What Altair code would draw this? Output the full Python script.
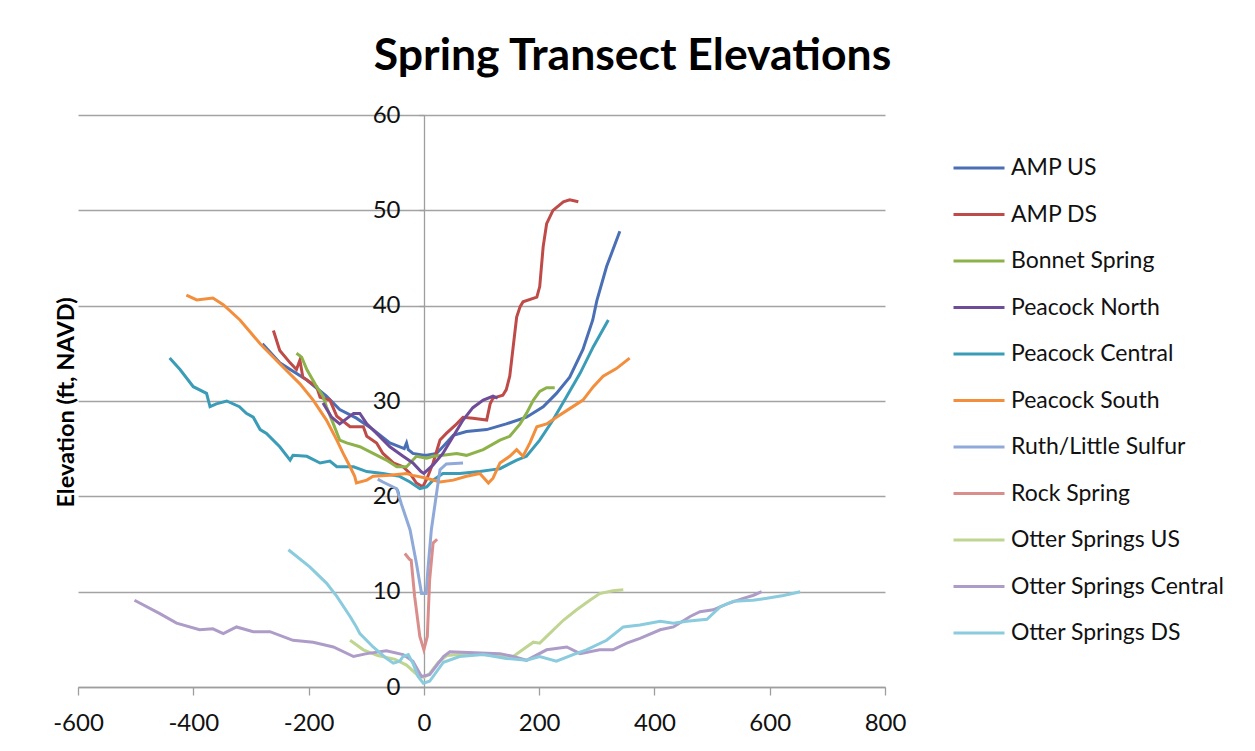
import altair as alt
import pandas as pd

FONT = "Lato"

series_names = ["AMP US", "AMP DS", "Bonnet Spring", "Peacock North", "Peacock Central",
                "Peacock South", "Ruth/Little Sulfur", "Rock Spring", "Otter Springs US",
                "Otter Springs Central", "Otter Springs DS"]
series_colors = ["#4A6FB5", "#BE4B48", "#8DB24A", "#6E4C98", "#3A9CB6",
                 "#F28E3C", "#8FA9D8", "#D98E8C", "#C0D592", "#AE9CC8", "#8ACBDD"]

amp_us_x = [-280, -250, -203, -169, -146, -117, -88, -59, -34, -30, -27, -19, 0, 5, 22, 39, 51, 74, 109, 143, 178, 207, 230, 253, 276, 293, 300, 317, 340]
amp_us_y = [36.0, 34.0, 32.2, 30.5, 29.1, 28.2, 27.0, 25.6, 25.0, 25.6, 24.9, 24.5, 24.3, 24.3, 24.5, 25.6, 26.4, 26.8, 27.0, 27.6, 28.3, 29.4, 30.8, 32.5, 35.4, 38.5, 40.5, 44.1, 47.8]

amp_ds_x = [-261, -250, -232, -221, -215, -210, -186, -180, -163, -151, -128, -105, -99, -82, -71, -53, -36, -24, -13, -2, 5, 16, 28, 39, 57, 68, 85, 109, 115, 120, 137, 143, 149, 155, 161, 167, 172, 196, 201, 207, 213, 224, 242, 253, 268]
amp_ds_y = [37.4, 35.3, 34.0, 33.3, 34.3, 32.5, 31.5, 30.4, 30.1, 28.4, 27.3, 27.3, 26.3, 25.6, 24.5, 23.5, 23.1, 22.4, 21.4, 21.0, 21.8, 23.5, 25.9, 26.6, 27.6, 28.3, 28.2, 28.0, 29.7, 30.3, 30.6, 31.2, 32.6, 35.7, 38.8, 39.9, 40.4, 40.9, 42.0, 46.2, 48.6, 50.0, 50.9, 51.1, 50.9]

bonnet_x = [-221, -212, -203, -186, -175, -169, -157, -146, -134, -111, -88, -65, -47, -30, -13, 5, 16, 33, 57, 74, 103, 132, 149, 167, 178, 190, 201, 213, 227]
bonnet_y = [35.0, 34.6, 33.3, 31.5, 30.5, 29.4, 27.6, 25.9, 25.6, 25.2, 24.5, 23.8, 23.1, 23.1, 24.2, 24.0, 24.2, 24.3, 24.5, 24.3, 24.9, 25.9, 26.3, 27.6, 28.7, 30.1, 31.0, 31.4, 31.4]

pn_x = [-175, -160, -146, -122, -111, -99, -82, -59, -36, -19, -5, 0, 16, 33, 51, 68, 85, 103, 120, 128]
pn_y = [29.8, 28.3, 27.6, 28.7, 28.7, 27.6, 26.6, 25.2, 24.2, 23.5, 22.6, 22.4, 23.3, 24.5, 26.3, 28.0, 29.3, 30.1, 30.5, 30.3]

pc_x = [-441, -423, -400, -377, -371, -360, -342, -320, -308, -296, -284, -273, -250, -232, -227, -203, -180, -163, -151, -122, -99, -71, -42, -24, -7, 5, 16, 33, 62, 97, 120, 132, 161, 178, 201, 224, 248, 271, 294, 320]
pc_y = [34.5, 33.3, 31.5, 30.8, 29.4, 29.7, 30.0, 29.4, 28.7, 28.3, 27.0, 26.6, 25.2, 23.8, 24.3, 24.2, 23.5, 23.7, 23.1, 23.1, 22.6, 22.4, 22.1, 21.5, 20.8, 21.0, 21.7, 22.4, 22.4, 22.6, 22.8, 22.9, 23.8, 24.2, 25.9, 28.0, 30.5, 32.9, 35.7, 38.5]

ps_x = [-412, -394, -366, -348, -319, -284, -250, -215, -192, -169, -151, -140, -128, -120, -117, -99, -88, -59, -30, -19, 5, 28, 51, 74, 97, 112, 120, 132, 149, 161, 172, 184, 196, 213, 230, 253, 276, 294, 311, 334, 357]
ps_y = [41.1, 40.6, 40.8, 40.1, 38.5, 36.0, 33.9, 31.8, 30.1, 28.0, 25.9, 24.5, 23.1, 22.1, 21.4, 21.7, 22.1, 22.2, 22.4, 22.2, 21.9, 21.5, 21.7, 22.1, 22.4, 21.4, 21.9, 23.5, 24.2, 24.9, 24.2, 25.6, 27.3, 27.6, 28.3, 29.2, 30.1, 31.5, 32.6, 33.4, 34.5]

ruth_x = [-80, -71, -47, -39, -24, -13, -4, 4, 7, 13, 22, 28, 39, 68]
ruth_y = [21.8, 21.5, 20.8, 19.2, 16.5, 13.0, 9.8, 9.8, 12.3, 16.5, 20.3, 22.8, 23.4, 23.5]

rock_x = [-33, -25, -22, -16, -7, 0, 6, 10, 16, 23]
rock_y = [14.0, 13.4, 13.3, 9.5, 5.3, 3.9, 5.3, 11.2, 15.1, 15.5]

otus_x = [-128, -105, -80, -50, -30, -10, 0, 10, 25, 40, 60, 100, 130, 155, 178, 190, 201, 218, 242, 265, 288, 305, 328, 346]
otus_y = [4.9, 3.9, 3.3, 2.9, 2.3, 1.2, 1.0, 1.4, 2.6, 3.3, 3.4, 3.4, 3.3, 3.2, 4.2, 4.7, 4.6, 5.6, 7.0, 8.1, 9.1, 9.8, 10.1, 10.2]

otc_x = [-502, -458, -429, -389, -366, -348, -325, -296, -267, -227, -192, -157, -122, -99, -65, -36, -19, -4, 10, 34, 45, 132, 155, 178, 213, 248, 271, 305, 328, 352, 375, 410, 433, 462, 479, 502, 525, 554, 571, 586]
otc_y = [9.1, 7.7, 6.7, 6.0, 6.1, 5.6, 6.3, 5.8, 5.8, 4.9, 4.7, 4.2, 3.2, 3.5, 3.8, 3.4, 2.7, 1.1, 1.3, 3.2, 3.7, 3.5, 3.2, 2.8, 3.9, 4.2, 3.5, 3.9, 3.9, 4.6, 5.1, 6.0, 6.3, 7.4, 7.9, 8.1, 8.7, 9.3, 9.6, 10.0]

otds_x = [-235, -198, -169, -151, -128, -117, -111, -88, -65, -53, -42, -36, -27, -19, -10, -1, 10, 34, 62, 103, 143, 178, 201, 230, 259, 282, 317, 346, 375, 410, 433, 456, 491, 514, 537, 571, 595, 624, 653]
otds_y = [14.4, 12.6, 10.9, 9.5, 7.4, 6.3, 5.6, 4.2, 3.0, 2.5, 2.7, 3.2, 3.4, 2.5, 1.1, 0.4, 0.6, 2.6, 3.2, 3.4, 3.0, 2.8, 3.2, 2.7, 3.4, 3.9, 4.9, 6.3, 6.5, 6.9, 6.7, 6.9, 7.1, 8.4, 9.0, 9.1, 9.3, 9.6, 10.0]

x_ticks = [-600, -400, -200, 0, 200, 400, 600, 800]
y_ticks = [0, 10, 20, 30, 40, 50, 60]

all_x = [amp_us_x, amp_ds_x, bonnet_x, pn_x, pc_x, ps_x, ruth_x, rock_x, otus_x, otc_x, otds_x]
all_y = [amp_us_y, amp_ds_y, bonnet_y, pn_y, pc_y, ps_y, ruth_y, rock_y, otus_y, otc_y, otds_y]

rows = []
for k, (name, xs, ys) in enumerate(zip(series_names, all_x, all_y)):
    for i, (xv, yv) in enumerate(zip(xs, ys)):
        rows.append({"series": name, "x": xv, "y": yv, "i": i, "k": k})
df = pd.DataFrame(rows)

chart = alt.Chart(df).mark_line(strokeWidth=3).encode(
    x=alt.X("x:Q",
            scale=alt.Scale(domain=[-600, 800], nice=False, zero=False),
            axis=alt.Axis(values=x_ticks, grid=False, tickSize=8, tickColor="#9E9E9E",
                          tickWidth=1.3, domainColor="#9E9E9E", domainWidth=1.3,
                          labelFont=FONT, labelFontSize=24, labelColor="#111",
                          labelExpr="'' + datum.value",
                          labelPadding=16, labelFlush=False, labelOverlap=False, title=None)),
    y=alt.Y("y:Q",
            scale=alt.Scale(domain=[0, 60], nice=False),
            axis=alt.Axis(values=y_ticks, grid=True, gridColor="#A3A3A3", gridWidth=1.4,
                          offset=-346, tickSize=5, tickColor="#9E9E9E", tickWidth=1.3,
                          domainColor="#9E9E9E", domainWidth=1.3,
                          labelFont=FONT, labelFontSize=24, labelColor="#111",
                          labelPadding=19, labelOverlap=False,
                          title="Elevation (ft, NAVD)", titleFont=FONT, titleFontSize=23.5,
                          titleFontWeight="bold", titleColor="#000",
                          titleX=-358, titleY=287, titleAngle=270,
                          titleAlign="center", titleBaseline="middle")),
    color=alt.Color("series:N",
                    scale=alt.Scale(domain=series_names, range=series_colors),
                    sort=series_names,
                    legend=alt.Legend(orient="none", legendX=874, legendY=26, title=None,
                                      symbolType="stroke", symbolSize=2601,
                                      symbolStrokeWidth=3, labelFont=FONT,
                                      labelFontSize=23, labelColor="#111", labelLimit=400,
                                      rowPadding=7.5, labelOffset=5, padding=0)),
    order=alt.Order("i:Q"),
    detail="k:N",
).properties(
    width=807,
    height=572,
    title=alt.TitleParams("Spring Transect Elevations", font=FONT, fontSize=44.5,
                          fontWeight="bold", color="#000", anchor="middle",
                          frame="group", dx=151, offset=24),
    autosize=alt.AutoSizeParams(type="none"),
    padding={"left": 70, "top": 107, "right": 362, "bottom": 56},
).configure(background="white").configure_view(stroke=None)

chart.save("out.html", embed_options={"renderer": "svg", "actions": False})
